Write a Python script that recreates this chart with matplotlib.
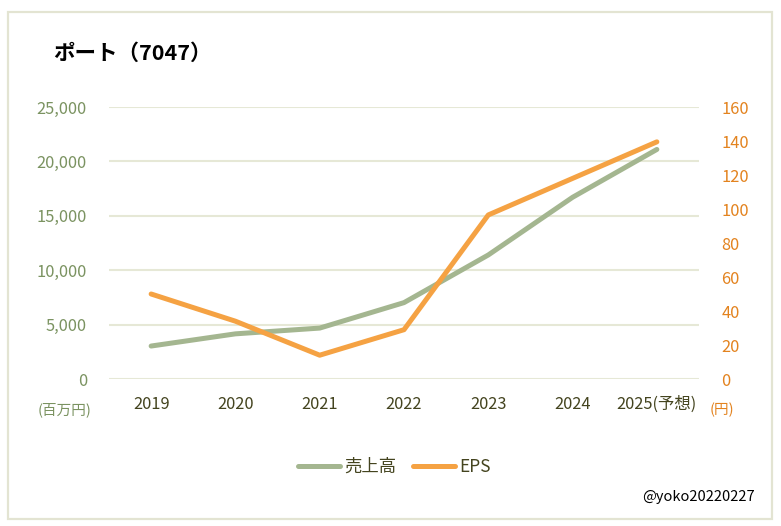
import matplotlib
matplotlib.use("Agg")
import matplotlib.pyplot as plt
from matplotlib.patches import Rectangle
from matplotlib.ticker import FuncFormatter

plt.rcParams['font.family'] = ['Noto Sans CJK JP', 'DejaVu Sans']

years = ["2019", "2020", "2021", "2022", "2023", "2024", "2025(予想)"]
sales = [3030, 4150, 4680, 7020, 11400, 16700, 21100]   # 売上高 (百万円)
eps = [50, 34, 14, 29, 96.5, 118, 139.5]                # EPS (円)
left_ticks = [0, 5000, 10000, 15000, 20000, 25000]
right_ticks = [0, 20, 40, 60, 80, 100, 120, 140, 160]

GREEN = "#a4b690"
ORANGE = "#f5a243"
LTICK = "#7b9361"
RTICK = "#e3831f"
XTICK = "#44441f"
GRID = "#e6e8d6"

W, H = 781, 526
fig = plt.figure(figsize=(W / 100, H / 100), dpi=100)
fig.patch.set_facecolor("white")

# border
fig.add_artist(Rectangle((8 / W, 1 - 519 / H), (772 - 8) / W, (519 - 12) / H,
                         transform=fig.transFigure, fill=False,
                         edgecolor="#e3e4d2", linewidth=1.6))

ax = fig.add_axes([109 / W, 1 - 379 / H, (699 - 109) / W, (379 - 107) / H])
ax2 = ax.twinx()

x = list(range(len(years)))
l1, = ax.plot(x, sales, color=GREEN, linewidth=3.6, solid_capstyle="round",
              solid_joinstyle="round", label="売上高", zorder=3)
l2, = ax2.plot(x, eps, color=ORANGE, linewidth=3.6, solid_capstyle="round",
               solid_joinstyle="round", label="EPS", zorder=4)

ax.set_xlim(-0.5, len(years) - 0.5)
ax.set_ylim(0, 25000)
ax2.set_ylim(0, 160)
ax.set_yticks(left_ticks)
ax2.set_yticks(right_ticks)
ax.yaxis.set_major_formatter(FuncFormatter(lambda v, p: f"{int(v):,}"))
ax.set_xticks(x)
ax.set_xticklabels(years)

ax.grid(axis="y", color=GRID, linewidth=1.5)
ax.set_axisbelow(True)
for a in (ax, ax2):
    for s in a.spines.values():
        s.set_visible(False)
ax.tick_params(axis="y", length=0, pad=16, labelsize=11.8, labelcolor=LTICK)
ax2.tick_params(axis="y", length=0, pad=16, labelsize=11.8, labelcolor=RTICK)
ax.tick_params(axis="x", length=0, pad=12, labelsize=11.8, labelcolor=XTICK)
ax2.set_zorder(ax.get_zorder() + 1)
ax2.patch.set_visible(False)

# title
fig.text(53 / W, 1 - 53 / H, "ポート（7047）", fontsize=15.5, fontweight="bold",
         color="black", ha="left", va="center")

# unit labels
fig.text(65 / W, 1 - 410 / H, "(百万円)", fontsize=10.5, color=LTICK,
         ha="center", va="center")
fig.text(722 / W, 1 - 410 / H, "(円)", fontsize=10.5, color=RTICK,
         ha="center", va="center")

# legend
leg = fig.legend(handles=[l1, l2], loc="center", bbox_to_anchor=(0.505, 1 - 467 / H),
                 ncol=2, frameon=False, fontsize=12.5, handlelength=2.4,
                 columnspacing=1.0, handletextpad=0.25)
for t in leg.get_texts():
    t.set_color(XTICK)

# watermark
fig.text(755 / W, 1 - 497 / H, "@yoko20220227", fontsize=10.5, color="black",
         ha="right", va="center")

fig.savefig("out.png", dpi=100, facecolor="white")
